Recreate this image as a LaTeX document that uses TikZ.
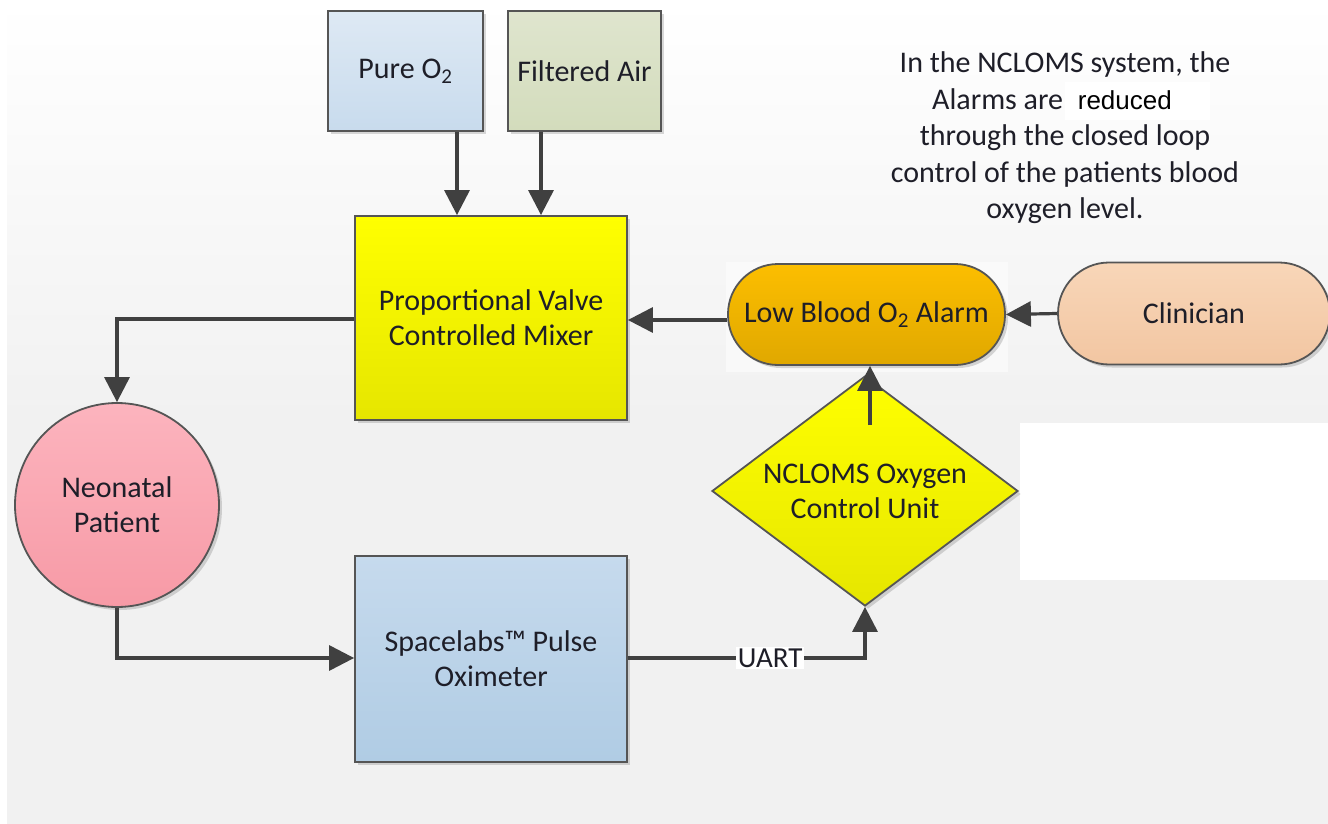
\documentclass[tikz,border=0pt]{standalone}
\usepackage{fontspec}
\setmainfont{Carlito}
\newfontfamily\arialfont{Liberation Sans}
\usetikzlibrary{arrows.meta,shapes.geometric,shadows}
\definecolor{linegray}{HTML}{404040}
\definecolor{edgegray}{HTML}{555555}
\definecolor{bggray}{HTML}{F1F1F1}
\definecolor{txt}{HTML}{1E1E28}
\definecolor{pureT}{RGB}{222,233,244}\definecolor{pureB}{RGB}{200,219,237}
\definecolor{airT}{RGB}{223,229,206}\definecolor{airB}{RGB}{211,220,188}
\definecolor{yelT}{RGB}{255,255,0}\definecolor{yelB}{RGB}{230,230,0}
\definecolor{almT}{RGB}{252,190,0}\definecolor{almB}{RGB}{224,168,0}
\definecolor{clnT}{RGB}{248,214,184}\definecolor{clnB}{RGB}{242,198,162}
\definecolor{neoT}{RGB}{252,180,190}\definecolor{neoB}{RGB}{247,154,166}
\definecolor{oxiT}{RGB}{198,218,237}\definecolor{oxiB}{RGB}{176,204,228}
\tikzset{
  shad/.style={drop shadow={shadow xshift=3pt,shadow yshift=-3pt,fill=black,opacity=.15}},
  boxnode/.style={draw=edgegray,line width=1.8pt,shad,align=center,text=txt,
     font=\fontsize{30}{35}\selectfont,inner sep=0pt},
  flow/.style={draw=linegray,line width=3.2pt,-{Triangle[length=25pt,width=25pt]}}
}
\begin{document}
\begin{tikzpicture}[x=1pt,y=-1pt]
\useasboundingbox (0,0) rectangle (1328,824);
% background
\fill[bggray] (0,0) rectangle (1328,824);
\shade[top color=white,bottom color=bggray] (0,0) rectangle (1328,420);
\fill[white] (0,0) rectangle (7,824);
\fill[white] (1020,423) rectangle (1328,580);
\fill[white,opacity=.5] (726,262) rectangle (1008,372);
\fill[white] (1065,82) rectangle (1210,120);
% nodes
\node[boxnode,minimum width=155,minimum height=120,top color=pureT,bottom color=pureB]
  (pure) at (405.5,71) {Pure O\textsubscript{2}};
\node[boxnode,minimum width=153,minimum height=120,top color=airT,bottom color=airB]
  (air) at (584.5,71) {Filtered Air};
\node[boxnode,minimum width=272,minimum height=204,top color=yelT,bottom color=yelB]
  (mixer) at (491,318) {Proportional Valve\\Controlled Mixer};
\node[boxnode,rounded corners=50pt,minimum width=277,minimum height=101,top color=almT,bottom color=almB]
  (alarm) at (866.5,314.5) {Low Blood O\textsubscript{2} Alarm};
\node[boxnode,rounded corners=51pt,minimum width=272,minimum height=102,top color=clnT,bottom color=clnB]
  (clin) at (1194,313.5) {Clinician};
\node[boxnode,circle,minimum size=204,top color=neoT,bottom color=neoB]
  (neo) at (117,505) {Neonatal\\Patient};
\node[boxnode,minimum width=272,minimum height=206,top color=oxiT,bottom color=oxiB]
  (oxi) at (491,659) {Spacelabs™ Pulse\\Oximeter};
\node[boxnode,diamond,aspect=1.33,minimum width=306,minimum height=230,top color=yelT,bottom color=yelB]
  (ncl) at (865,491) {NCLOMS Oxygen\\Control Unit};
% note text
\node[align=center,text=txt,font=\fontsize{30}{36.5}\selectfont] (note) at (1065,138)
  {In the NCLOMS system, the\\Alarms are \hspace{8pt}{\arialfont\fontsize{26}{36.5}\selectfont\color{black} reduced}\rule{26pt}{0pt}\\through the closed loop\\control of the patients blood\\oxygen level.};
% connectors
\draw[flow] (pure.south -| 457,0) -- (mixer.north -| 457,0);
\draw[flow] (air.south -| 541,0) -- (mixer.north -| 541,0);
\draw[flow] (clin.west) -- (alarm.east);
\draw[flow] (alarm.west |- 0,320) -- (mixer.east |- 0,320);
\coordinate (mxl) at (117,319);
\draw[flow] (mixer.west |- mxl) -- (mxl) -- (neo.north);
\coordinate (nbl) at (117,658);
\draw[flow] (neo.south) -- (nbl) -- (oxi.west |- nbl);
\coordinate (ubr) at (865,658);
\draw[flow] (oxi.east |- ubr) -- node[fill=white,inner sep=2pt,text=txt,font=\fontsize{29}{30}\selectfont,pos=.60]{UART} (ubr) -- (ncl.south);
\coordinate (nin) at (870,425);
\draw[flow] (nin) -- (alarm.south -| nin);
\end{tikzpicture}
\end{document}
